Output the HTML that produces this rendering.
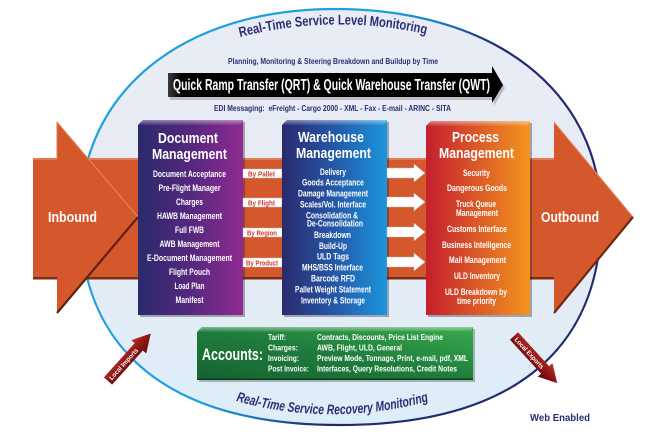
<!DOCTYPE html>
<html><head><meta charset="utf-8"><style>
html,body{margin:0;padding:0;background:#fff;width:650px;height:436px;overflow:hidden}
svg{display:block}
text{font-family:"Liberation Sans",Arial,sans-serif;font-weight:bold}
</style></head><body>
<svg width="650" height="436" viewBox="0 0 650 436" xmlns="http://www.w3.org/2000/svg">
<defs>
 <linearGradient id="ellFill" x1="0" y1="0" x2="0" y2="1">
  <stop offset="0" stop-color="#e9ecf4"/>
  <stop offset="0.6" stop-color="#e5ecf5"/>
  <stop offset="1" stop-color="#dceef9"/>
 </linearGradient>
 <linearGradient id="ellStroke" gradientUnits="userSpaceOnUse" x1="296" y1="191" x2="404" y2="243">
  <stop offset="0" stop-color="#1ea0df"/>
  <stop offset="0.45" stop-color="#1c7cc4"/>
  <stop offset="1" stop-color="#232a6e"/>
 </linearGradient>
 <linearGradient id="docG" x1="0" y1="0" x2="1" y2="0">
  <stop offset="0" stop-color="#2b296c"/>
  <stop offset="0.5" stop-color="#55287e"/>
  <stop offset="1" stop-color="#8e2a92"/>
 </linearGradient>
 <linearGradient id="whG" x1="0" y1="0" x2="1" y2="0">
  <stop offset="0" stop-color="#2a2a6d"/>
  <stop offset="0.5" stop-color="#2458a8"/>
  <stop offset="1" stop-color="#1b95db"/>
 </linearGradient>
 <linearGradient id="prG" x1="0" y1="0" x2="1" y2="0">
  <stop offset="0" stop-color="#c41f2d"/>
  <stop offset="0.5" stop-color="#dc5a27"/>
  <stop offset="1" stop-color="#f39520"/>
 </linearGradient>
 <linearGradient id="accG" x1="0" y1="1" x2="1" y2="0">
  <stop offset="0" stop-color="#156232"/>
  <stop offset="0.5" stop-color="#1f7d3c"/>
  <stop offset="1" stop-color="#3aac4c"/>
 </linearGradient>
 <linearGradient id="blkG" x1="0" y1="0" x2="1" y2="0">
  <stop offset="0" stop-color="#3a3a3a"/>
  <stop offset="0.04" stop-color="#000"/>
  <stop offset="1" stop-color="#000"/>
 </linearGradient>
 <linearGradient id="redArr" x1="0" y1="0" x2="0" y2="1">
  <stop offset="0" stop-color="#c0302a"/>
  <stop offset="0.5" stop-color="#8e1616"/>
  <stop offset="1" stop-color="#5e0c0c"/>
 </linearGradient>
 <linearGradient id="topHi" x1="0" y1="0" x2="0" y2="1">
  <stop offset="0" stop-color="#fff" stop-opacity="0.45"/>
  <stop offset="1" stop-color="#fff" stop-opacity="0.05"/>
 </linearGradient>
 <path id="topArc" d="M240,37 Q335,13 430,35" fill="none"/>
 <path id="botArc" d="M236,401 Q333,428 433,400" fill="none"/>
</defs>

<!-- ellipse -->
<path d="M80,217 C80,92 182,9 335,9 C495,9 601,92 601,217 C601,352 510,425 340,425 C171,425 80,352 80,217 Z" fill="url(#ellFill)" stroke="url(#ellStroke)" stroke-width="2.2"/>

<!-- top curved text -->
<text font-size="14" fill="#2b2e73"><textPath href="#topArc" textLength="188" lengthAdjust="spacingAndGlyphs">Real-Time Service Level Monitoring</textPath></text>

<text x="333" y="64" font-size="8" fill="#2b2e73" text-anchor="middle" textLength="210" lengthAdjust="spacingAndGlyphs">Planning, Monitoring &amp; Steering Breakdown and Buildup by Time</text>

<!-- black QRT arrow -->
<polygon points="170,76 494,76 494,69 505,88 494,106 494,100 170,100" fill="#888" opacity="0.45"/>
<polygon points="168,73 492,73 492,66 503,85 492,103 492,97 168,97" fill="url(#blkG)"/>
<text x="173" y="90" font-size="16" fill="#fff" textLength="317" lengthAdjust="spacingAndGlyphs">Quick Ramp Transfer (QRT) &amp; Quick Warehouse Transfer (QWT)</text>

<text x="332.5" y="111" font-size="7.8" fill="#2b2e73" text-anchor="middle" textLength="237" lengthAdjust="spacingAndGlyphs">EDI Messaging:&#160;&#160;eFreight - Cargo 2000 - XML - Fax - E-mail - ARINC - SITA</text>

<!-- orange band -->
<rect x="33" y="158" width="521" height="120" fill="#d5582c"/>
<rect x="33" y="158" width="521" height="2" fill="#e27a52"/>
<rect x="33" y="277" width="521" height="2.5" fill="#7a2e16"/>

<!-- inbound head -->
<polygon points="57,122 138,217 57,313" fill="#d5582c"/>
<line x1="57" y1="122" x2="138" y2="217" stroke="#e88a64" stroke-width="1"/>
<line x1="138" y1="217" x2="57" y2="313" stroke="#5e2210" stroke-width="2.2"/>
<line x1="57" y1="122" x2="57" y2="158" stroke="#e27a52" stroke-width="1"/>
<text x="48" y="222" font-size="15" fill="#fff" textLength="49" lengthAdjust="spacingAndGlyphs">Inbound</text>

<!-- outbound head -->
<polygon points="554,122 633,217 554,313" fill="#d5582c"/>
<line x1="554" y1="122" x2="633" y2="217" stroke="#e88a64" stroke-width="1"/>
<line x1="633" y1="217" x2="554" y2="313" stroke="#6e2812" stroke-width="2.2"/>
<text x="541" y="222" font-size="15" fill="#fff" textLength="58" lengthAdjust="spacingAndGlyphs">Outbound</text>

<!-- box shadows -->
<rect x="140" y="122" width="105" height="195" fill="#1a1a30" opacity="0.35"/>
<rect x="284" y="122" width="105" height="195" fill="#1a1a30" opacity="0.35"/>
<rect x="428" y="123" width="104" height="194" fill="#1a1a30" opacity="0.35"/>

<!-- Document box -->
<polygon points="143,120 243,120 243,315 138,315 138,125" fill="url(#docG)"/>
<polygon points="143,120 243,120 241,125 138,125" fill="url(#topHi)"/>
<text x="188" y="143" font-size="15" fill="#fff" text-anchor="middle" textLength="60" lengthAdjust="spacingAndGlyphs">Document</text>
<text x="189.5" y="159" font-size="15" fill="#fff" text-anchor="middle" textLength="75" lengthAdjust="spacingAndGlyphs">Management</text>
<g font-size="9.5" fill="#fff" text-anchor="middle">
<text x="189.5" y="177" textLength="73" lengthAdjust="spacingAndGlyphs">Document Acceptance</text>
<text x="189.5" y="191" textLength="62" lengthAdjust="spacingAndGlyphs">Pre-Flight Manager</text>
<text x="189.5" y="205" textLength="27" lengthAdjust="spacingAndGlyphs">Charges</text>
<text x="189.5" y="219" textLength="65" lengthAdjust="spacingAndGlyphs">HAWB Management</text>
<text x="189.5" y="233" textLength="29" lengthAdjust="spacingAndGlyphs">Full FWB</text>
<text x="189.5" y="247" textLength="60" lengthAdjust="spacingAndGlyphs">AWB Management</text>
<text x="189.5" y="261" textLength="85" lengthAdjust="spacingAndGlyphs">E-Document Management</text>
<text x="189.5" y="275" textLength="41" lengthAdjust="spacingAndGlyphs">Flight Pouch</text>
<text x="189.5" y="289" textLength="30" lengthAdjust="spacingAndGlyphs">Load Plan</text>
<text x="189.5" y="303" textLength="28" lengthAdjust="spacingAndGlyphs">Manifest</text>
</g>

<!-- label boxes -->
<g>
<rect x="243" y="169" width="39" height="9" fill="#fff" stroke="#bbb" stroke-width="0.5"/>
<rect x="243" y="198" width="39" height="9" fill="#fff" stroke="#bbb" stroke-width="0.5"/>
<rect x="243" y="228" width="39" height="9" fill="#fff" stroke="#bbb" stroke-width="0.5"/>
<rect x="243" y="258" width="39" height="9" fill="#fff" stroke="#bbb" stroke-width="0.5"/>
</g>
<g font-size="7.5" fill="#d23a2a">
<text x="248" y="176.5" textLength="27" lengthAdjust="spacingAndGlyphs">By Pallet</text>
<text x="248" y="205.5" textLength="27" lengthAdjust="spacingAndGlyphs">By Flight</text>
<text x="247" y="235.5" textLength="30" lengthAdjust="spacingAndGlyphs">By Region</text>
<text x="246" y="265.5" textLength="32" lengthAdjust="spacingAndGlyphs">By Product</text>
</g>

<!-- Warehouse box -->
<polygon points="287,120 387,120 387,315 282,315 282,125" fill="url(#whG)"/>
<polygon points="287,120 387,120 385,125 282,125" fill="url(#topHi)"/>
<text x="331" y="142" font-size="15" fill="#fff" text-anchor="middle" textLength="66" lengthAdjust="spacingAndGlyphs">Warehouse</text>
<text x="333.5" y="158" font-size="15" fill="#fff" text-anchor="middle" textLength="75" lengthAdjust="spacingAndGlyphs">Management</text>
<g font-size="9.3" fill="#fff" text-anchor="middle">
<text x="333" y="175" textLength="26" lengthAdjust="spacingAndGlyphs">Delivery</text>
<text x="333" y="185.5" textLength="62" lengthAdjust="spacingAndGlyphs">Goods Acceptance</text>
<text x="333" y="196.5" textLength="70" lengthAdjust="spacingAndGlyphs">Damage Management</text>
<text x="333" y="207.5" textLength="66" lengthAdjust="spacingAndGlyphs">Scales/Vol. Interface</text>
<text x="332" y="218.5" textLength="52" lengthAdjust="spacingAndGlyphs">Consolidation &amp;</text>
<text x="335" y="226.5" textLength="56" lengthAdjust="spacingAndGlyphs">De-Consolidation</text>
<text x="332.5" y="238" textLength="37" lengthAdjust="spacingAndGlyphs">Breakdown</text>
<text x="333" y="249" textLength="28" lengthAdjust="spacingAndGlyphs">Build-Up</text>
<text x="333" y="259.5" textLength="32" lengthAdjust="spacingAndGlyphs">ULD Tags</text>
<text x="332.5" y="270.5" textLength="61" lengthAdjust="spacingAndGlyphs">MHS/BSS Interface</text>
<text x="333" y="281.5" textLength="44" lengthAdjust="spacingAndGlyphs">Barcode RFD</text>
<text x="333" y="292.5" textLength="76" lengthAdjust="spacingAndGlyphs">Pallet Weight Statement</text>
<text x="333" y="303.5" textLength="64" lengthAdjust="spacingAndGlyphs">Inventory &amp; Storage</text>
</g>

<!-- white arrows -->
<g fill="#fff" stroke="#b8b8b8" stroke-width="0.5">
<polygon points="387,168 414,168 414,164 425,173 414,182 414,178 387,178"/>
<polygon points="387,197 414,197 414,193 425,202 414,211 414,207 387,207"/>
<polygon points="387,227 414,227 414,223 425,232 414,241 414,237 387,237"/>
<polygon points="387,257 414,257 414,253 425,262 414,271 414,267 387,267"/>
</g>

<!-- Process box -->
<polygon points="431,121 530,121 530,315 426,315 426,126" fill="url(#prG)"/>
<polygon points="431,121 530,121 528,126 426,126" fill="url(#topHi)"/>
<text x="475.5" y="142" font-size="15" fill="#fff" text-anchor="middle" textLength="47" lengthAdjust="spacingAndGlyphs">Process</text>
<text x="476.5" y="158" font-size="15" fill="#fff" text-anchor="middle" textLength="75" lengthAdjust="spacingAndGlyphs">Management</text>
<g font-size="9.3" fill="#fff" text-anchor="middle">
<text x="476.5" y="176" textLength="27" lengthAdjust="spacingAndGlyphs">Security</text>
<text x="477" y="191" textLength="60" lengthAdjust="spacingAndGlyphs">Dangerous Goods</text>
<text x="476" y="207" textLength="40" lengthAdjust="spacingAndGlyphs">Truck Queue</text>
<text x="477" y="216" textLength="42" lengthAdjust="spacingAndGlyphs">Management</text>
<text x="477" y="232" textLength="60" lengthAdjust="spacingAndGlyphs">Customs Interface</text>
<text x="476.5" y="248" textLength="69" lengthAdjust="spacingAndGlyphs">Business Intelligence</text>
<text x="477.5" y="263" textLength="57" lengthAdjust="spacingAndGlyphs">Mail Management</text>
<text x="477" y="279" textLength="46" lengthAdjust="spacingAndGlyphs">ULD Inventory</text>
<text x="476" y="295" textLength="62" lengthAdjust="spacingAndGlyphs">ULD Breakdown by</text>
<text x="476.5" y="304" textLength="39" lengthAdjust="spacingAndGlyphs">time priority</text>
</g>

<!-- Accounts box -->
<rect x="199" y="329" width="276" height="53" fill="#1a2a1a" opacity="0.3"/>
<polygon points="202,327 473,327 473,380 197,380 197,332" fill="url(#accG)"/>
<polygon points="202,327 473,327 471,331 197,332" fill="url(#topHi)"/>
<rect x="197" y="378.5" width="276" height="1.5" fill="#0c3d1c"/>
<text x="202" y="360" font-size="17" fill="#fff" textLength="61" lengthAdjust="spacingAndGlyphs">Accounts:</text>
<g font-size="8" fill="#fff">
<text x="268" y="340" textLength="18" lengthAdjust="spacingAndGlyphs">Tariff:</text>
<text x="268" y="350.5" textLength="30" lengthAdjust="spacingAndGlyphs">Charges:</text>
<text x="268" y="361" textLength="31" lengthAdjust="spacingAndGlyphs">Invoicing:</text>
<text x="268" y="371.5" textLength="41" lengthAdjust="spacingAndGlyphs">Post Invoice:</text>
<text x="317" y="340" textLength="126" lengthAdjust="spacingAndGlyphs">Contracts, Discounts, Price List Engine</text>
<text x="317" y="350.5" textLength="85" lengthAdjust="spacingAndGlyphs">AWB, Flight, ULD, General</text>
<text x="317" y="361" textLength="151" lengthAdjust="spacingAndGlyphs">Preview Mode, Tonnage, Print, e-mail, pdf, XML</text>
<text x="317" y="371.5" textLength="140" lengthAdjust="spacingAndGlyphs">Interfaces, Query Resolutions, Credit Notes</text>
</g>

<!-- Local Imports arrow -->
<g transform="translate(108,381) rotate(-48)">
<polygon points="0,-5.5 46,-5.5 46,-10 64,0 46,10 46,5.5 0,5.5" fill="url(#redArr)"/>
<text x="23" y="2.5" font-size="6.5" fill="#fff" text-anchor="middle" textLength="40" lengthAdjust="spacingAndGlyphs">Local Imports</text>
</g>

<!-- Local Exports arrow -->
<g transform="translate(514,336) rotate(47.5)">
<polygon points="0,-5.5 46,-5.5 46,-10 64,0 46,10 46,5.5 0,5.5" fill="url(#redArr)"/>
<text x="23" y="2.5" font-size="6.5" fill="#fff" text-anchor="middle" textLength="40" lengthAdjust="spacingAndGlyphs">Local Exports</text>
</g>

<!-- bottom curved text -->
<text font-size="14" font-style="italic" fill="#2b2e73"><textPath href="#botArc" textLength="195" lengthAdjust="spacingAndGlyphs">Real-Time Service Recovery Monitoring</textPath></text>

<text x="530" y="421" font-size="10.5" fill="#2b2e73" textLength="60" lengthAdjust="spacingAndGlyphs">Web Enabled</text>
</svg>
</body></html>
